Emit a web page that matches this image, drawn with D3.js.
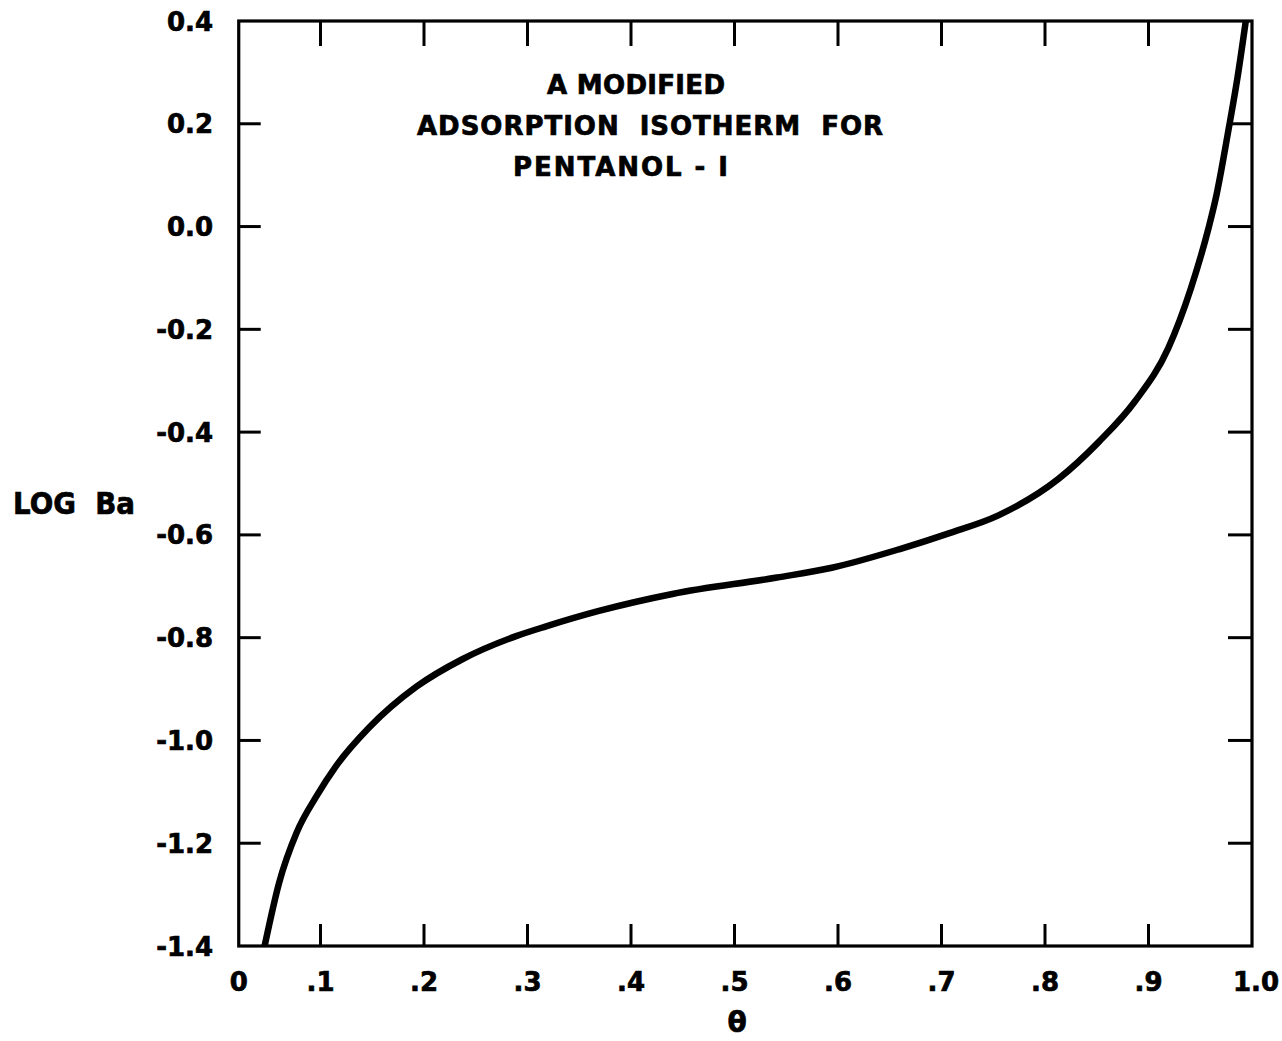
<!DOCTYPE html>
<html>
<head>
<meta charset="utf-8">
<script src="https://cdn.jsdelivr.net/npm/d3@7"></script>
<style>
  html, body { margin: 0; padding: 0; background: #fff; }
  svg { display: block; }
  text { font-family: "DejaVu Sans", sans-serif; font-weight: bold; fill: #000; stroke: #000; stroke-width: 0.7px; }
</style>
</head>
<body>
<svg id="chart" width="1282" height="1041"></svg>
<script>
// ---- data ----
const theta = [0.046, 0.060, 0.077, 0.096, 0.115, 0.147, 0.193, 0.237, 0.289, 0.318, 0.369, 0.440,
               0.541, 0.594, 0.659, 0.707, 0.755, 0.813, 0.852, 0.887, 0.919, 0.941,
               0.958, 0.965, 0.977, 0.986, 0.994];
const logBa = [-1.40, -1.277, -1.179, -1.109, -1.050, -0.975, -0.895, -0.842, -0.797, -0.778, -0.748, -0.715,
               -0.683, -0.664, -0.628, -0.597, -0.562, -0.491, -0.419, -0.340, -0.237, -0.120,
               -0.003, 0.055, 0.185, 0.290, 0.40];
const xTickValues = [0.021, 0.1, 0.2, 0.3, 0.4, 0.5, 0.6, 0.7, 0.8, 0.9, 1.0];
const xTickLabels = ["0", ".1", ".2", ".3", ".4", ".5", ".6", ".7", ".8", ".9", "1.0"];
const yTickValues = [0.4, 0.2, 0.0, -0.2, -0.4, -0.6, -0.8, -1.0, -1.2, -1.4];
const yTickLabels = ["0.4", "0.2", "0.0", "-0.2", "-0.4", "-0.6", "-0.8", "-1.0", "-1.2", "-1.4"];
const titleLines = ["A MODIFIED", "ADSORPTION  ISOTHERM  FOR", "PENTANOL - I"];
const xLabel = "\u03B8";
const yLabel = "LOG  Ba";
const frameX = [0.021, 1.0];
const frameY = [-1.4, 0.4];

// ---- scales ----
const x = d3.scaleLinear().domain([0, 1]).range([217, 1252]);
const y = d3.scaleLinear().domain([-1.4, 0.4]).range([946, 21]);

const svg = d3.select("#chart");

// frame
const L = x(frameX[0]), R = x(frameX[1]), T = y(frameY[1]), B = y(frameY[0]);
svg.append("rect")
  .attr("x", L).attr("y", T).attr("width", R - L).attr("height", B - T)
  .attr("fill", "none").attr("stroke", "#000").attr("stroke-width", 3.2);

const inner = xTickValues.filter(v => v > frameX[0] && v < frameX[1]);
const innerY = yTickValues.filter(v => v > frameY[0] && v < frameY[1]);
const tickG = svg.append("g").attr("stroke", "#000").attr("stroke-width", 3);
tickG.selectAll(".bt").data(inner).join("line")
  .attr("x1", d => x(d)).attr("x2", d => x(d)).attr("y1", B).attr("y2", B - 22);
tickG.selectAll(".tt").data(inner).join("line")
  .attr("x1", d => x(d)).attr("x2", d => x(d)).attr("y1", T).attr("y2", T + 25);
tickG.selectAll(".lt").data(innerY).join("line")
  .attr("y1", d => y(d)).attr("y2", d => y(d)).attr("x1", L).attr("x2", L + 22);
tickG.selectAll(".rt").data(innerY).join("line")
  .attr("y1", d => y(d)).attr("y2", d => y(d)).attr("x1", R).attr("x2", R - 24);

// x tick labels
svg.selectAll(".xl").data(xTickValues).join("text")
  .attr("x", d => x(d) + (d === 1.0 ? 4 : 0))
  .attr("y", B + 45)
  .attr("text-anchor", "middle")
  .attr("font-size", 26)
  .text((d, i) => xTickLabels[i]);

// y tick labels
svg.selectAll(".yl").data(yTickValues).join("text")
  .attr("x", 213)
  .attr("y", d => y(d) + 9.5)
  .attr("text-anchor", "end")
  .attr("font-size", 26)
  .text((d, i) => yTickLabels[i]);

// axis titles
svg.append("text").attr("x", 737).attr("y", 1032).attr("text-anchor", "middle")
  .attr("font-size", 28).text(xLabel);
svg.append("text").attr("x", 13).attr("y", 514).attr("font-size", 30)
  .attr("textLength", 122).attr("lengthAdjust", "spacingAndGlyphs")
  .style("white-space", "pre").text(yLabel);

// title
const titlePos = [{x: 547, y: 94, w: 178}, {x: 417, y: 135, w: 466}, {x: 513, y: 176, w: 215}];
svg.selectAll(".title").data(titleLines).join("text")
  .attr("x", (d, i) => titlePos[i].x)
  .attr("y", (d, i) => titlePos[i].y)
  .attr("font-size", 26)
  .attr("textLength", (d, i) => titlePos[i].w)
  .attr("lengthAdjust", "spacing")
  .style("white-space", "pre")
  .text(d => d);

// curve
const pts = theta.map((t, i) => [t, logBa[i]]);
const line = d3.line().x(d => x(d[0])).y(d => y(d[1])).curve(d3.curveMonotoneX);
svg.append("path").datum(pts)
  .attr("d", line)
  .attr("fill", "none").attr("stroke", "#000").attr("stroke-width", 6.5)
  .attr("stroke-linecap", "butt").attr("stroke-linejoin", "round");
</script>
</body>
</html>
